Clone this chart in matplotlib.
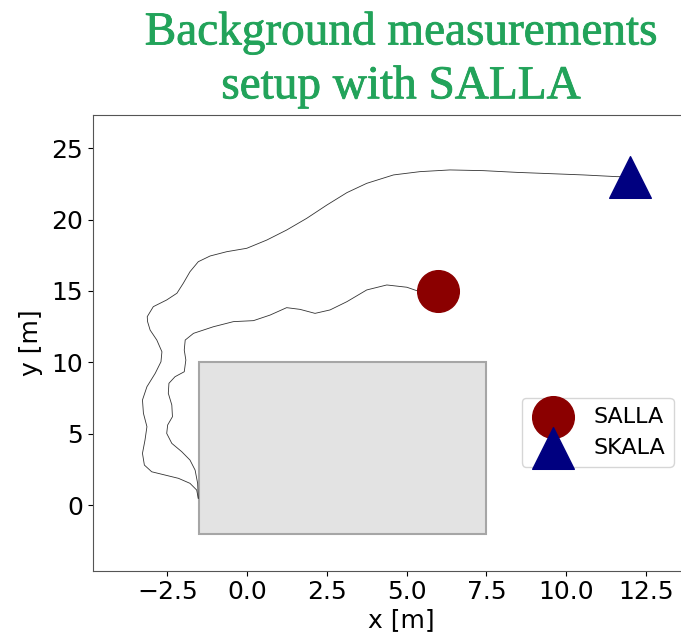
import numpy as np
import matplotlib.pyplot as plt
import matplotlib.patheffects as pe
from matplotlib.patches import Rectangle

# path to SALLA (inner path)
salla_x = [-1.53, -1.55, -1.63, -1.79, -2.05, -2.36, -2.52, -2.49, -2.34, -2.36, -2.47,
           -2.45, -2.26, -1.97, -1.92, -1.97, -1.94, -1.68, -1.06, -0.43, 0.20, 0.72,
           1.24, 1.66, 2.13, 2.60, 3.13, 3.75, 4.38, 5.01, 5.32, 6.0]
salla_y = [0.47, 1.52, 2.45, 3.15, 3.74, 4.32, 5.02, 5.61, 6.19, 7.01, 7.83,
           8.53, 8.99, 9.34, 10.16, 10.86, 11.56, 12.03, 12.49, 12.85, 12.92, 13.31,
           13.83, 13.71, 13.43, 13.67, 14.25, 15.07, 15.42, 15.26, 15.02, 15.0]

# path to SKALA (outer path)
skala_x = [-1.53, -1.58, -1.79, -2.15, -2.57, -2.99, -3.22, -3.28, -3.20, -3.14, -3.25,
           -3.28, -3.14, -2.88, -2.70, -2.67, -2.83, -3.04, -3.12, -3.13, -2.94, -2.52,
           -2.20, -2.00, -1.79, -1.53, -1.16, -0.64, -0.01, 0.62, 1.24, 1.87, 2.50,
           3.13, 3.75, 4.59, 5.42, 6.36, 7.41, 8.45, 9.50, 10.54, 11.59, 12.0]
skala_y = [0.47, 1.05, 1.52, 1.87, 2.10, 2.33, 2.80, 3.62, 4.56, 5.49, 6.43,
           7.36, 8.29, 9.23, 10.04, 10.74, 11.56, 12.26, 12.85, 13.20, 13.90, 14.37,
           14.84, 15.54, 16.35, 17.05, 17.45, 17.75, 17.99, 18.57, 19.27, 20.09, 21.02,
           21.89, 22.54, 23.13, 23.36, 23.48, 23.43, 23.31, 23.22, 23.13, 23.01, 23.0]

salla_pos = (6, 15)
skala_pos = (12, 23)
room = (-1.5, -2, 9, 12)  # x, y, width, height

fig = plt.figure(figsize=(6.81, 6.36), dpi=100)
ax = fig.add_axes([0.1366, 0.1027, 0.9054, 0.7165])

ax.add_patch(Rectangle(room[:2], room[2], room[3], facecolor='#e3e3e3',
                       edgecolor='#a6a6a6', lw=1.5, zorder=1))
ax.plot(salla_x, salla_y, color='#333333', lw=0.6, zorder=2)
ax.plot(skala_x, skala_y, color='#333333', lw=0.6, zorder=2)
ax.scatter(*salla_pos, s=900, marker='o', color='#8b0000', label='SALLA', zorder=3)
ax.scatter(*skala_pos, s=900, marker='^', color='#000080', label='SKALA', zorder=3)

ax.set_xlim(-4.83, 14.5)
ax.set_ylim(-4.6, 27.33)
ax.set_xticks(np.arange(-2.5, 13, 2.5))
ax.set_yticks(np.arange(0, 26, 5))
ax.tick_params(labelsize=18)
ax.set_xlabel('x [m]', fontsize=18, labelpad=3)
ax.set_ylabel('y [m]', fontsize=18, labelpad=6)
for s in ax.spines.values():
    s.set_color('#555555')

ax.legend(fontsize=16, loc='upper left', bbox_to_anchor=(522 / 681, 1 - 398 / 636),
          bbox_transform=fig.transFigure, borderaxespad=0, scatterpoints=1)

green = '#22a35a'
ax.set_title('Background measurements\nsetup with SALLA', fontsize=34,
             family='Liberation Serif', color=green,
             linespacing=1.35, pad=12,
             path_effects=[pe.withStroke(linewidth=0.6, foreground=green)])

fig.savefig('out.png', dpi=100)
